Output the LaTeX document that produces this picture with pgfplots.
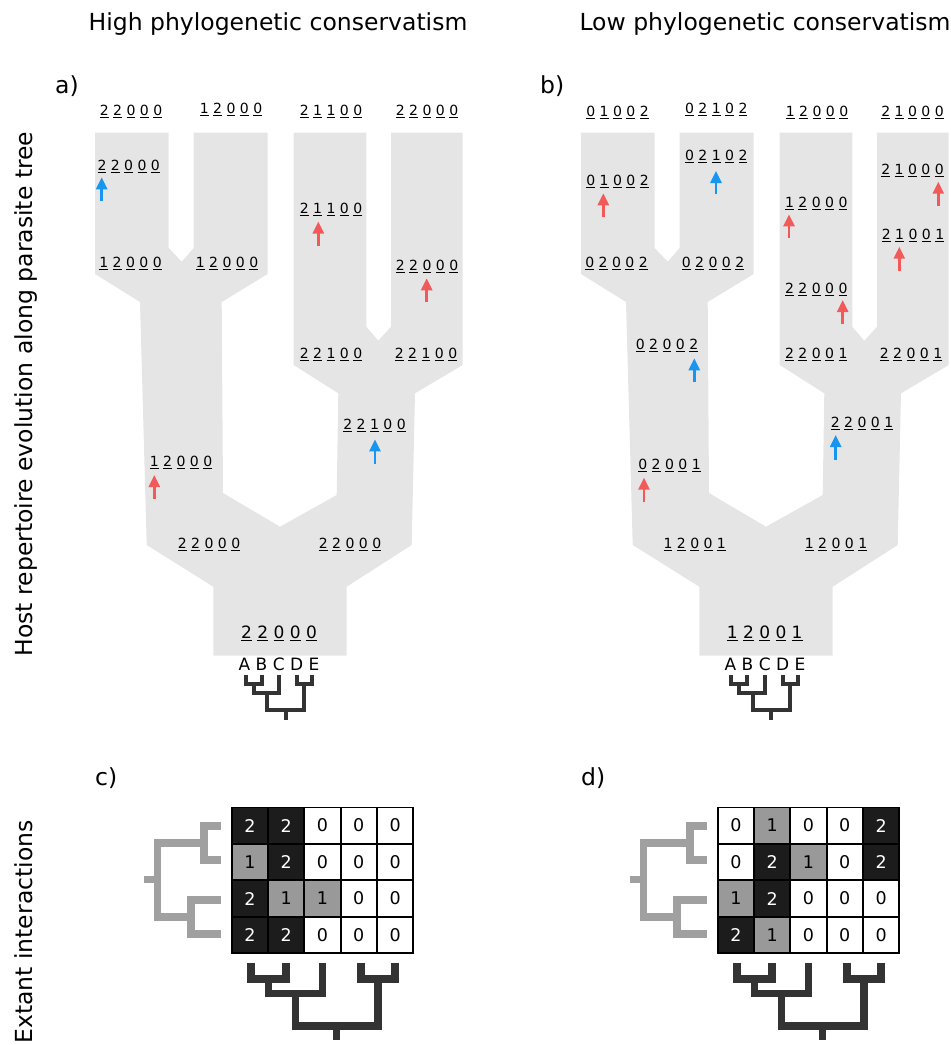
\documentclass[border=0pt]{standalone}
\usepackage{fontspec}
\setmainfont{DejaVu Sans}
\usepackage{pgfplots}
\pgfplotsset{compat=1.18}
\usepackage{pgfplotstable}
\usetikzlibrary{arrows.meta}
\definecolor{treefill}{RGB}{229,229,229}
\definecolor{arrred}{RGB}{242,90,90}
\definecolor{arrblue}{RGB}{22,150,240}
\definecolor{dark}{RGB}{51,51,51}
\definecolor{lgray}{RGB}{160,160,160}
\newcommand\ud[1]{\vtop{\hbox{#1}\kern1.3pt\hrule height 1pt}}
\newcommand\lab[5]{\ud{#1} \ud{#2} \ud{#3} \ud{#4} \ud{#5}}
\newcommand\bigfnt{\fontsize{23.5}{28}\selectfont}
\newcommand\midfnt{\fontsize{14}{16}\selectfont}
\newcommand\cellfnt{\fontsize{17.5}{19}\selectfont}
\newcommand\rootfnt{\fontsize{17}{19}\selectfont}

\pgfplotstableread{
x y v
249.9 825.6 2
286.2 825.6 2
322.5 825.6 0
358.8 825.6 0
395.1 825.6 0
249.9 862.1 1
286.2 862.1 2
322.5 862.1 0
358.8 862.1 0
395.1 862.1 0
249.9 898.6 2
286.2 898.6 1
322.5 898.6 1
358.8 898.6 0
395.1 898.6 0
249.9 935.1 2
286.2 935.1 2
322.5 935.1 0
358.8 935.1 0
395.1 935.1 0
}\matC
\pgfplotstableread{
x y v
735.9 825.6 0
772.2 825.6 1
808.5 825.6 0
844.8 825.6 0
881.1 825.6 2
735.9 862.1 0
772.2 862.1 2
808.5 862.1 1
844.8 862.1 0
881.1 862.1 2
735.9 898.6 1
772.2 898.6 2
808.5 898.6 0
844.8 898.6 0
881.1 898.6 0
735.9 935.1 2
772.2 935.1 1
808.5 935.1 0
844.8 935.1 0
881.1 935.1 0
}\matD

\begin{document}
\begin{tikzpicture}[
  arr/.style={line width=2.6pt, -{Triangle[length=12pt,width=11pt]}},
  stree/.style={dark, line width=4pt, line join=miter, line cap=butt},
  btree/.style={dark, line width=7.5pt, line join=miter, line cap=butt},
  gtree/.style={lgray, line width=7.5pt, line join=miter, line cap=butt},
  lbl/.style={anchor=base, inner sep=0pt, font=\midfnt},
]
\begin{axis}[width=951pt, height=1045pt, scale only axis,
  xmin=0, xmax=951, ymin=0, ymax=1045, y dir=reverse,
  hide axis, clip=false,
  point meta min=0, point meta max=2,
  colormap={cells}{rgb255=(255,255,255) rgb255=(153,153,153) rgb255=(28,28,28)},
]
% tree shapes
\addplot[fill=treefill, draw=none] coordinates {
(95,132.7)(168.7,132.7)(168.7,248)(181.7,261.7)(193.7,248)(193.7,132.7)(267.7,132.7)(267.7,274)(221.7,302)(223,493)(280,526.7)(336.7,495)(338.3,393.3)(293.7,365)(293.7,132.7)(366.3,132.7)(366.3,326.7)(378.3,340.7)(391,326.7)(391,132.7)(462.7,132.7)(462.7,365)(415,393.3)(411.7,545)(346.7,586.7)(346.7,655.7)(213.3,655.7)(213.3,586.7)(146.7,545)(140,302)(95,274)} -- cycle;
\addplot[fill=treefill, draw=none] coordinates {
(581,132.7)(654.7,132.7)(654.7,248)(667.7,261.7)(679.7,248)(679.7,132.7)(753.7,132.7)(753.7,274)(707.7,302)(709,493)(766,526.7)(822.7,495)(824.3,393.3)(779.7,365)(779.7,132.7)(852.3,132.7)(852.3,326.7)(864.3,340.7)(877,326.7)(877,132.7)(948.7,132.7)(948.7,365)(901,393.3)(897.7,545)(832.7,586.7)(832.7,655.7)(699.3,655.7)(699.3,586.7)(632.7,545)(626,302)(581,274)} -- cycle;

% small host trees
\addplot[stree] coordinates {(245.8,675)(245.8,683.8)(261.7,683.8)(261.7,675)};
\addplot[stree] coordinates {(253.8,683.8)(253.8,692.5)(279,692.5)(279,675)};
\addplot[stree] coordinates {(267.2,692.5)(267.2,710)(304,710)(304,683.8)};
\addplot[stree] coordinates {(297.2,675)(297.2,683.8)(312.2,683.8)(312.2,675)};
\addplot[stree] coordinates {(285.5,710)(285.5,720)};
\addplot[stree] coordinates {(731.3,675)(731.3,683.8)(747.2,683.8)(747.2,675)};
\addplot[stree] coordinates {(739.3,683.8)(739.3,692.5)(764.5,692.5)(764.5,675)};
\addplot[stree] coordinates {(752.7,692.5)(752.7,710)(789.5,710)(789.5,683.8)};
\addplot[stree] coordinates {(782.7,675)(782.7,683.8)(797.7,683.8)(797.7,675)};
\addplot[stree] coordinates {(771,710)(771,720)};

% arrows left
\addplot[arr, arrblue] coordinates {(101.7,200.5)(101.7,177.3)};
\addplot[arr, arrred] coordinates {(318.3,245.5)(318.3,221.5)};
\addplot[arr, arrred] coordinates {(426.7,302)(426.7,278.3)};
\addplot[arr, arrblue] coordinates {(375,463.5)(375,439.3)};
\addplot[arr, arrred] coordinates {(154.3,499)(154.3,475)};
% arrows right
\addplot[arr, arrred] coordinates {(603.3,217)(603.3,193.3)};
\addplot[arr, arrblue] coordinates {(716,194)(716,171)};
\addplot[arr, arrred] coordinates {(789,238)(789,214.3)};
\addplot[arr, arrred] coordinates {(842.7,323.5)(842.7,300)};
\addplot[arr, arrred] coordinates {(938.3,205.5)(938.3,181.7)};
\addplot[arr, arrred] coordinates {(899.3,270.5)(899.3,246.7)};
\addplot[arr, arrblue] coordinates {(694.3,382)(694.3,358.3)};
\addplot[arr, arrred] coordinates {(644,502)(644,477.7)};
\addplot[arr, arrblue] coordinates {(835.7,459.5)(835.7,435)};

% matrices
\addplot[scatter, only marks, mark=square*, mark size=18.15pt, point meta=explicit,
  scatter/use mapped color={draw=black, fill=mapped color, line width=1.8pt}]
  table[x=x, y=y, meta=v] {\matC};
\addplot[scatter, only marks, mark=square*, mark size=18.15pt, point meta=explicit,
  scatter/use mapped color={draw=black, fill=mapped color, line width=1.8pt}]
  table[x=x, y=y, meta=v] {\matD};
\addplot[draw=none, point meta=explicit symbolic,
  nodes near coords={\ifnum\pgfplotspointmeta=2 \textcolor{white}{2}\else\pgfplotspointmeta\fi},
  every node near coord/.append style={anchor=center, inner sep=0pt, font=\cellfnt}]
  table[x=x, y=y, meta=v] {\matC};
\addplot[draw=none, point meta=explicit symbolic,
  nodes near coords={\ifnum\pgfplotspointmeta=2 \textcolor{white}{2}\else\pgfplotspointmeta\fi},
  every node near coord/.append style={anchor=center, inner sep=0pt, font=\cellfnt}]
  table[x=x, y=y, meta=v] {\matD};

% gray parasite trees
\addplot[gtree] coordinates {(220.7,825.8)(204.2,825.8)(204.2,860)(220.7,860)};
\addplot[gtree] coordinates {(220.7,900)(190.8,900)(190.8,934)(220.7,934)};
\addplot[gtree] coordinates {(204.2,842.9)(157.5,842.9)(157.5,917)(190.8,917)};
\addplot[gtree] coordinates {(157.5,879.5)(144,879.5)};
\addplot[gtree] coordinates {(706.7,825.8)(690.2,825.8)(690.2,860)(706.7,860)};
\addplot[gtree] coordinates {(706.7,900)(676.8,900)(676.8,934)(706.7,934)};
\addplot[gtree] coordinates {(690.2,842.9)(643.5,842.9)(643.5,917)(676.8,917)};
\addplot[gtree] coordinates {(643.5,879.5)(630,879.5)};

% dark host trees below matrices
\addplot[btree] coordinates {(250.8,963.3)(250.8,979)(285.8,979)(285.8,963.3)};
\addplot[btree] coordinates {(268.3,979)(268.3,993.3)(322.5,993.3)(322.5,963.3)};
\addplot[btree] coordinates {(295.4,993.3)(295.4,1025.8)(377.8,1025.8)(377.8,979)};
\addplot[btree] coordinates {(360.8,963.3)(360.8,979)(394.8,979)(394.8,963.3)};
\addplot[btree] coordinates {(336.6,1025.8)(336.6,1040)};
\addplot[btree] coordinates {(736.8,963.3)(736.8,979)(771.8,979)(771.8,963.3)};
\addplot[btree] coordinates {(754.3,979)(754.3,993.3)(808.5,993.3)(808.5,963.3)};
\addplot[btree] coordinates {(781.4,993.3)(781.4,1025.8)(863.8,1025.8)(863.8,979)};
\addplot[btree] coordinates {(846.8,963.3)(846.8,979)(880.8,979)(880.8,963.3)};
\addplot[btree] coordinates {(822.6,1025.8)(822.6,1040)};

% titles and labels
\node[anchor=base, inner sep=0pt, font=\bigfnt] at (axis cs:278,30.7) {High phylogenetic conservatism};
\node[anchor=base, inner sep=0pt, font=\bigfnt] at (axis cs:765,30.7) {Low phylogenetic conservatism};
\node[anchor=base west, inner sep=0pt, font=\bigfnt] at (axis cs:55,93.5) {a)};
\node[anchor=base west, inner sep=0pt, font=\bigfnt] at (axis cs:540,93.3) {b)};
\node[anchor=base west, inner sep=0pt, font=\bigfnt] at (axis cs:95,785) {c)};
\node[anchor=base west, inner sep=0pt, font=\bigfnt] at (axis cs:581,785) {d)};
\node[rotate=90, anchor=base, inner sep=0pt, font=\bigfnt] at (axis cs:32,394) {Host repertoire evolution along parasite tree};
\node[rotate=90, anchor=base, inner sep=0pt, font=\bigfnt] at (axis cs:32,932) {Extant interactions};

% left panel state labels
\node[lbl] at (axis cs:131,115.2) {\lab22000};
\node[lbl] at (axis cs:231,113.5) {\lab12000};
\node[lbl] at (axis cs:331,115.2) {\lab21100};
\node[lbl] at (axis cs:427,115.2) {\lab22000};
\node[lbl] at (axis cs:128.7,170.2) {\lab22000};
\node[lbl] at (axis cs:130.5,267.8) {\lab12000};
\node[lbl] at (axis cs:227,267.8) {\lab12000};
\node[lbl] at (axis cs:331,213.5) {\lab21100};
\node[lbl] at (axis cs:427,270.5) {\lab22000};
\node[lbl] at (axis cs:331,358.8) {\lab22100};
\node[lbl] at (axis cs:426,358.8) {\lab22100};
\node[lbl] at (axis cs:374.5,429.5) {\lab22100};
\node[lbl] at (axis cs:181,466.8) {\lab12000};
\node[lbl] at (axis cs:209,548.5) {\lab22000};
\node[lbl] at (axis cs:350,548.5) {\lab22000};
\node[lbl, font=\rootfnt] at (axis cs:279,638.3) {\lab22000};
\node[lbl, font=\rootfnt] at (axis cs:279,670) {A B C D E};

% right panel state labels
\node[lbl] at (axis cs:617.5,116.2) {\lab01002};
\node[lbl] at (axis cs:716.3,113.5) {\lab02102};
\node[lbl] at (axis cs:817,116.2) {\lab12000};
\node[lbl] at (axis cs:912.5,116.2) {\lab21000};
\node[lbl] at (axis cs:617.5,185.5) {\lab01002};
\node[lbl] at (axis cs:616.5,267.2) {\lab02002};
\node[lbl] at (axis cs:716.3,160.5) {\lab02102};
\node[lbl] at (axis cs:713,267.2) {\lab02002};
\node[lbl] at (axis cs:816.3,207.8) {\lab12000};
\node[lbl] at (axis cs:816.3,293.5) {\lab22000};
\node[lbl] at (axis cs:912.5,174.5) {\lab21000};
\node[lbl] at (axis cs:913,239.5) {\lab21001};
\node[lbl] at (axis cs:667,349.5) {\lab02002};
\node[lbl] at (axis cs:669.5,469.5) {\lab02001};
\node[lbl] at (axis cs:816.3,358.8) {\lab22001};
\node[lbl] at (axis cs:911,358.8) {\lab22001};
\node[lbl] at (axis cs:862,427.8) {\lab22001};
\node[lbl] at (axis cs:694.7,548.8) {\lab12001};
\node[lbl] at (axis cs:836,548.8) {\lab12001};
\node[lbl, font=\rootfnt] at (axis cs:764.7,638.3) {\lab12001};
\node[lbl, font=\rootfnt] at (axis cs:765,670) {A B C D E};
\end{axis}
\pgfresetboundingbox
\useasboundingbox (current axis.south west) rectangle (current axis.north east);
\end{tikzpicture}
\end{document}
